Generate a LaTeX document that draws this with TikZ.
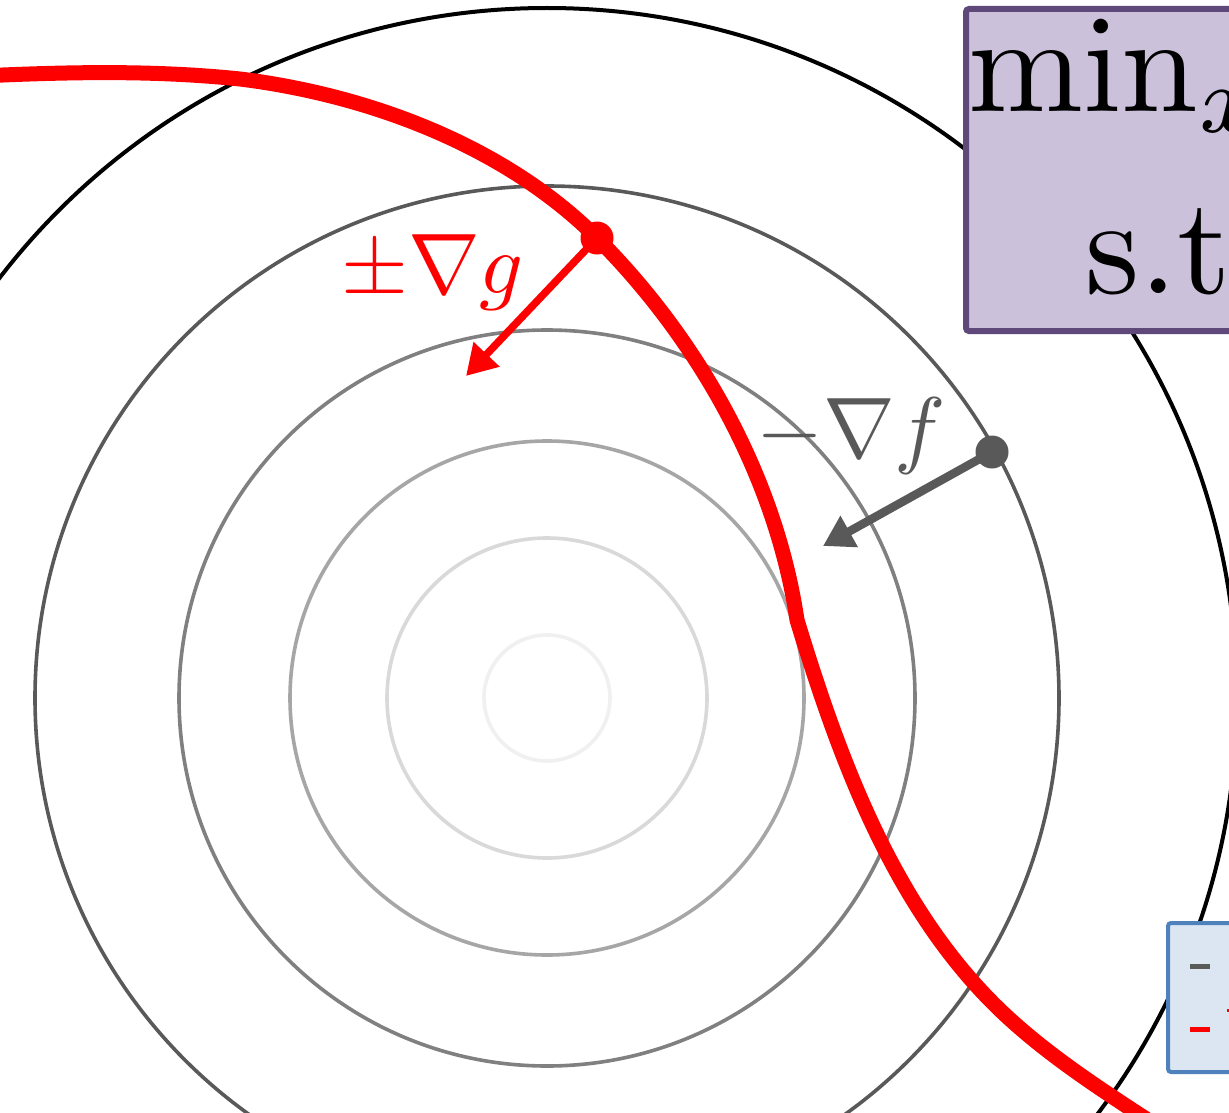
\documentclass[tikz,border=0pt]{standalone}
\usetikzlibrary{arrows.meta}
\definecolor{lvA}{HTML}{F0F0F0}
\definecolor{lvB}{HTML}{D9D9D9}
\definecolor{lvC}{HTML}{A6A6A6}
\definecolor{lvD}{HTML}{808080}
\definecolor{lvE}{HTML}{595959}
\definecolor{gradgray}{HTML}{595959}
\definecolor{probfill}{HTML}{CCC1DA}
\definecolor{probdraw}{HTML}{5F497A}
\definecolor{legfill}{HTML}{DCE6F2}
\definecolor{legdraw}{HTML}{4F81BD}
\tikzset{
  level/.style={line width=3.6pt},
  constraint/.style={red, line width=15pt},
  reddot/.style={circle, fill=red, inner sep=0pt, minimum size=33pt},
  graydot/.style={circle, fill=gradgray, inner sep=0pt, minimum size=33pt},
  redarrow/.style={red, line width=7.5pt, -{Triangle[length=30pt,width=34pt]}},
  grayarrow/.style={gradgray, line width=8.5pt, -{Triangle[length=30pt,width=34pt]}},
  lbl/.style={inner sep=0pt, anchor=base west, font=\normalsize},
  big/.style={inner sep=0pt, anchor=base west, font=\normalsize},
}
\begin{document}
\begin{tikzpicture}[x=1pt,y=-1pt]
\useasboundingbox (0,0) rectangle (1229,1113);
\clip (0,0) rectangle (1229,1113);
\fill[white] (0,0) rectangle (1229,1113);
% level sets
\coordinate (ctr) at (547,698);
\draw[level, lvA] (ctr) circle[radius=63pt];
\draw[level, lvB] (ctr) circle[radius=160pt];
\draw[level, lvC] (ctr) circle[radius=257pt];
\draw[level, lvD] (ctr) circle[radius=368pt];
\draw[level, lvE] (ctr) circle[radius=512pt];
\draw[level, black, line width=4pt] (ctr) circle[radius=690pt];
% constraint curve
\coordinate (cA) at (-20,76);
\coordinate (cB) at (240,79);
\coordinate (cC) at (597,238);
\coordinate (cE) at (797,620);
\coordinate (cG) at (1000,1010);
\coordinate (cH) at (1160,1128);
\draw[constraint] (cA) .. controls (67,72) and (153,70) .. (cB)
  .. controls (369,95) and (505,146) .. (cC)
  .. controls (699,340) and (776,478) .. (cE)
  .. controls (840,761) and (894,908) .. (cG)
  .. controls (1048,1056) and (1105,1092) .. (cH);
% gradient of g
\node[reddot] (gdot) at (cC) {};
\coordinate (gtip) at (466,376);
\draw[redarrow] (gdot.center) -- (gtip);
\node[lbl, red] (glbl) at (341,293) {\scalebox{8.6}{$\pm\nabla g$}};
% gradient of f
\node[graydot] (fdot) at (992,452) {};
\coordinate (ftip) at (823,546);
\draw[grayarrow] (fdot.center) -- (ftip);
\node[lbl, gradgray] (flbl) at (756,457) {\scalebox{8.6}{$-\nabla f$}};
% problem box
\draw[probdraw, fill=probfill, line width=6pt, rounded corners=3pt] (966,9) rectangle (1500,331);
\node[big] (minx) at (968,112) {\scalebox{13.8}{$\min_x$}};
\node[big] (st) at (1085,293) {\scalebox{13.8}{s.t.}};
% legend box
\draw[legdraw, fill=legfill, line width=4pt, rounded corners=3pt] (1168,923) rectangle (1500,1072);
\draw[gradgray, line width=5pt] (1190,966) -- (1210,966);
\draw[red, line width=5pt] (1190,1029) -- (1210,1029);
\fill[red] (1226.5,1009) rectangle (1231,1012);
\end{tikzpicture}
\end{document}
